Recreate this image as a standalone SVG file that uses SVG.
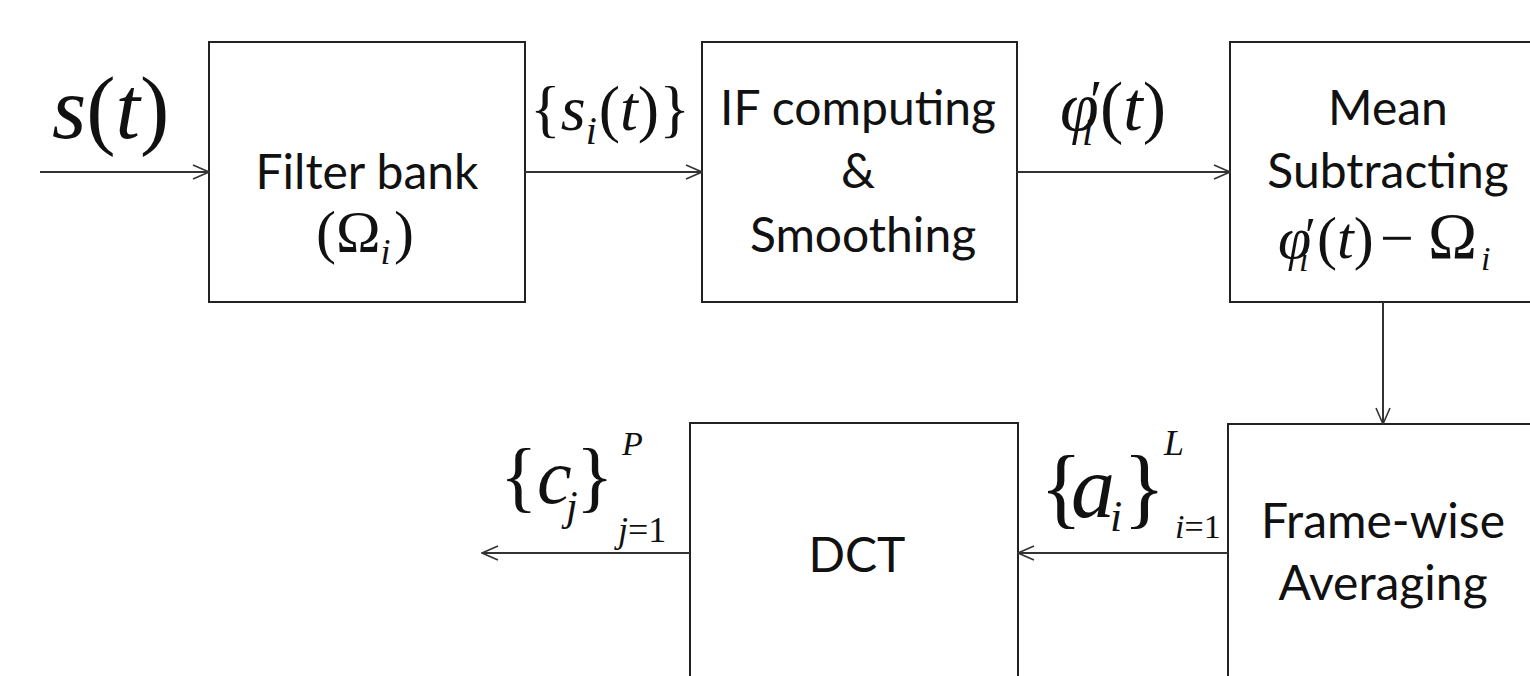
<svg xmlns="http://www.w3.org/2000/svg" width="1530" height="676" viewBox="0 0 1530 676">
<defs>
<marker id="arr" viewBox="0 0 20 20" refX="19" refY="10" markerWidth="20" markerHeight="20" markerUnits="userSpaceOnUse" orient="auto">
<path d="M3,3 L19,10 L3,17" fill="none" stroke="#333" stroke-width="1.6"/>
</marker>
</defs>
<style>
.box{fill:#fff;stroke:#222;stroke-width:2}
.t{font-family:Lato,"Open Sans",sans-serif;font-size:48px;fill:#111;text-anchor:middle}
.m{font-family:"Liberation Serif","Times New Roman",serif;fill:#111}
.i{font-style:italic}
.c{stroke:#333;stroke-width:2;fill:none;marker-end:url(#arr)}
</style>
<rect width="1530" height="676" fill="#fff"/>
<g id="filter-bank">
<rect class="box" x="209" y="42" width="316" height="260"/>
<text class="t" x="367" y="189">Filter bank</text>
<text class="m" font-size="60" y="252"><tspan x="316">(Ω</tspan><tspan class="i" font-size="36" y="264">i</tspan><tspan x="394" y="252">)</tspan></text>
</g>
<g id="if-computing">
<rect class="box" x="702" y="42" width="315" height="260"/>
<text class="t" x="858" y="125">IF computing</text>
<text class="t" x="858" y="188">&amp;</text>
<text class="t" x="863" y="252">Smoothing</text>
</g>
<g id="mean-subtracting">
<rect class="box" x="1230" y="42" width="320" height="260"/>
<text class="t" x="1388" y="125">Mean</text>
<text class="t" x="1388" y="188">Subtracting</text>
<text class="m" font-size="60" y="258"><tspan class="i" x="1278">φ</tspan><tspan font-size="50" x="1305" y="252">′</tspan><tspan class="i" font-size="34" x="1299" y="271">i</tspan><tspan x="1317" y="258">(</tspan><tspan class="i">t</tspan><tspan>)</tspan><tspan x="1380">−</tspan><tspan x="1428" font-size="66">Ω</tspan><tspan class="i" font-size="34" x="1481" y="270">i</tspan></text>
</g>
<g id="frame-wise-averaging">
<rect class="box" x="1228" y="424" width="322" height="270"/>
<text class="t" x="1383" y="538">Frame-wise</text>
<text class="t" x="1383" y="600">Averaging</text>
</g>
<g id="dct">
<rect class="box" x="690" y="423" width="328" height="270"/>
<text class="t" x="857" y="572">DCT</text>
</g>
<g id="connectors">
<line class="c" x1="40" y1="172" x2="209" y2="172"/>
<line class="c" x1="525" y1="172" x2="702" y2="172"/>
<line class="c" x1="1017" y1="172" x2="1230" y2="172"/>
<line class="c" x1="1383" y1="302" x2="1383" y2="424"/>
<line class="c" x1="1228" y1="553" x2="1018" y2="553"/>
<line class="c" x1="690" y1="553" x2="482" y2="553"/>
</g>
<g id="labels">
<text class="m" x="52" y="138" font-size="88"><tspan class="i">s</tspan>(<tspan class="i">t</tspan>)</text>
<text class="m" font-size="64" y="130"><tspan x="530">{</tspan><tspan class="i">s</tspan><tspan class="i" font-size="40" y="144">i</tspan><tspan y="130" dx="2">(</tspan><tspan class="i">t</tspan>)}</text>
<text class="m" font-size="70" y="130"><tspan class="i" x="1060">φ</tspan><tspan font-size="56" x="1090" y="120">′</tspan><tspan class="i" font-size="40" x="1082" y="145">i</tspan><tspan x="1100" y="130">(</tspan><tspan class="i">t</tspan>)</text>
<text class="m" font-size="78" y="503"><tspan x="500">{</tspan><tspan class="i" x="537">c</tspan><tspan class="i" font-size="42" x="566" y="520">j</tspan><tspan x="576" y="503">}</tspan></text>
<text class="m i" x="622" y="455" font-size="34">P</text>
<text class="m" x="618" y="542" font-size="36"><tspan class="i">j</tspan>=1</text>
<text class="m" font-size="88" y="517"><tspan x="1040">{</tspan><tspan class="i" x="1071">a</tspan><tspan class="i" font-size="44" x="1110" y="531">i</tspan><tspan x="1123" y="517">}</tspan></text>
<text class="m i" x="1164" y="455" font-size="36">L</text>
<text class="m" x="1175" y="538" font-size="34"><tspan class="i">i</tspan>=1</text>
</g>
</svg>
